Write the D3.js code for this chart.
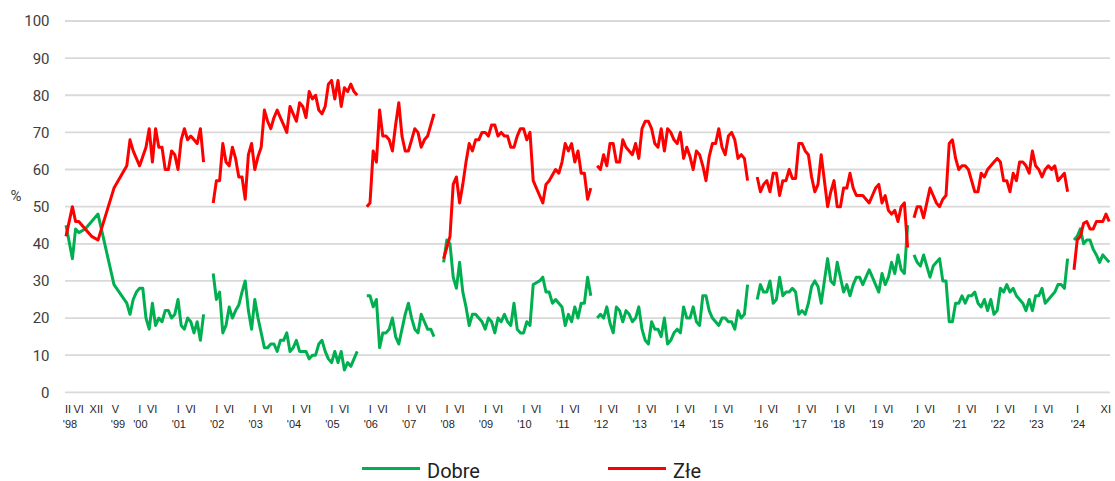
<!DOCTYPE html>
<html>
<head>
<meta charset="utf-8">
<script src="https://cdn.jsdelivr.net/npm/d3@7"></script>
<style>
  body { margin: 0; background: #fff; }
  svg text { font-family: Roboto, "Liberation Sans", sans-serif; }
  .ylab { font-size: 15px; fill: #404040; }
  .xlab { font-family: "Liberation Sans Narrow", "Liberation Sans", Arial, sans-serif !important; font-size: 11px; fill: #262626; }
  .leg { font-size: 20px; fill: #222; }
</style>
</head>
<body>
<svg id="chart" width="1115" height="481"></svg>
<script>
// one slot = one survey position on the category axis
// each term of government is drawn as its own line, so gaps appear between them

var segStart = [0, 46, 94, 118, 166, 216, 265, 315];

// Dobre (green)
var dobre = [
  [45,null,36,44,43,null,44,null,46,null,48,null,null,null,null,29,null,null,null,24,
   21,25,27,28,28,20,17,24,18,20,19,22,22,20,21,25,18,17,20,19,16,19,14,21],
  [32,25,27,16,18,23,20,22,23.5,27,30,22,17,25,20,16,12,12,13,13,11,14,14,16,11,12,14,11,11,11,
   9,10,10,13,14,11,9,8,11,8,11,6,8,7,9,11],
  [26,26,23,25,12,16,16,17,20,15,13,17,21,24,20,17,16,21,19,17,17,15],
  [35,41,40,31,28,35,27,23,18,21,21,20,19,17,20,19,16,20,19,21,19,18,24,17,16,16,19,18,29,29.5,
   30,31,27,27,24,25,24,23,18,21,19,23,20,24,24,31,26],
  [20,21,20,23,18.6,16,23,22,19,22,21,19,20,23,17,14,13,19,17,17,15,20,13,14,16,17,16,23,20,20,
   23,19,18,26,26,22,20,19,18,20,20,19,19,17,22,20,21,29],
  [25,29,27,27,30,24,25,31,26,27,27,28,27,21,22,21,24,28.5,30,28.5,24,30,36,30,29,35,31,27,29,26,
   29,31,31,29,31,33,31,29,27,32,29,31,35,32,37,33,32,45],
  [37,35,34,37,34,31,34,35,36,30,30,19,19,24,24,26,24,26,26,27,24,23,25,22,25,21,22,28,27,29,
   27,28,26,25,24,22,25,22,26,26,28,24,25,26,27,29,29,28,36],
  [41,42,44,40,41,41,38.5,37,35,37,36,35]
];

// Złe (red)
var zle = [
  [42,null,50,46,46,null,44,null,42,null,41,null,null,null,null,55,null,null,null,61,
   68,65,63,61,63.5,66,71,62,71,66,66,60,60,65,64,60,68,71,68,69,68,67,71,62],
  [51,57,57,67,62,61,66,63,58,58,52,64,67,60,63.5,66,76,73,71,74,76,74,72,70,77,75,73,78,77,74,
   81,79,80,76,75,77,83,84,79,84,77,82,81,83,81,80],
  [50,51,65,62,76,69,69,68,65,72,78,69,65,65,68,71,70,66,68,69,72,75],
  [36,39,42,56,58,51,56,62,67,65,68,68,70,70,69,72,72,69,70,69,69,66,66,69,71,71,68,70,57,55,
   53,51,56,57,58.5,60,59,62,67,65,67,62,65,59,59,52,55],
  [61,60,64,61,67,67,62,62,68,66,65,64,67,63,71,73,73,71,67,66,71,65,71,70,68,67,70,63,66,63.5,
   60,65,64,61,57,63.5,67,67,71,66,64,69,70,68,63,64,63,57],
  [58,54,56,57,54,59,59,53,57,57,60,57.6,57.6,67,67,65,64,58,54,56,64,57,50,54,57,50,50,55,55,59,
   55,53,53,53,52,51,53,55,56,51,53,49,48,49,46,50,51,39],
  [47,50,50,47,51,55,53,51,50,52,53,67,68,63,60,61,61,60,57,54,54,59,58,60,61,62,63,62,57,57,
   54,59,57,62,62,61,59,65,61,60,58,60,61,60,61,57,58,59,54],
  [33,41,42,45.5,46,44,44,46,46,46,48,46]
];

// axis labels: [slot, text]
var monthTicks = [
  [0,"II"],[4,"VI"],[10,"XII"],[15,"V"],
  [22,"I"],[27,"VI"],[34,"I"],[39,"VI"],[46,"I"],[51,"VI"],[58,"I"],[63,"VI"],
  [70,"I"],[75,"VI"],[82,"I"],[87,"VI"],[94,"I"],[99,"VI"],[106,"I"],[111,"VI"],
  [118,"I"],[123,"VI"],[130,"I"],[135,"VI"],[142,"I"],[147,"VI"],[154,"I"],[159,"VI"],
  [166,"I"],[171,"VI"],[178,"I"],[183,"VI"],[190,"I"],[195,"VI"],[202,"I"],[207,"VI"],
  [216,"I"],[221,"VI"],[228,"I"],[233,"VI"],[240,"I"],[245,"VI"],[252,"I"],[257,"VI"],
  [265,"I"],[270,"VI"],[278,"I"],[283,"VI"],[290,"I"],[295,"VI"],[302,"I"],[307,"VI"],
  [315,"I"],[325,"XI"]
];
var yearTicks = [
  [0,"'98"],[15,"'99"],[22,"'00"],[34,"'01"],[46,"'02"],[58,"'03"],[70,"'04"],[82,"'05"],
  [94,"'06"],[106,"'07"],[118,"'08"],[130,"'09"],[142,"'10"],[154,"'11"],[166,"'12"],
  [178,"'13"],[190,"'14"],[202,"'15"],[216,"'16"],[228,"'17"],[240,"'18"],[252,"'19"],
  [265,"'20"],[278,"'21"],[290,"'22"],[302,"'23"],[315,"'24"]
];

var colDobre = "#00b050";
var colZle = "#ff0000";

var svg = d3.select("#chart");

var x = d3.scaleLinear().domain([0, 326]).range([66, 1109.2]);
var y = d3.scaleLinear().domain([0, 100]).range([392.3, 21]);

// grid + y labels

svg.append("g").selectAll("line")
  .data(y.ticks(10))
  .enter().append("line")
  .attr("x1", 65).attr("x2", 1110)
  .attr("y1", function(d) { return y(d); })
  .attr("y2", function(d) { return y(d); })
  .attr("stroke", "#d9d9d9")
  .attr("stroke-width", 1.8);

svg.append("g").selectAll("text")
  .data(y.ticks(10))
  .enter().append("text")
  .attr("class", "ylab")
  .attr("x", 49.5)
  .attr("y", function(d) { return y(d); })
  .attr("dy", "0.36em")
  .attr("text-anchor", "end")
  .text(function(d) { return d; });

svg.append("text")
  .attr("class", "ylab")
  .attr("x", 16).attr("y", 196)
  .attr("dy", "0.36em")
  .attr("text-anchor", "middle")
  .text("%");

// x labels

svg.append("g").selectAll("text")
  .data(monthTicks)
  .enter().append("text")
  .attr("class", "xlab")
  .attr("x", function(d) { return x(d[0]) + 5; })
  .attr("y", 413)
  .attr("text-anchor", "end")
  .text(function(d) { return d[1]; });

svg.append("g").selectAll("text")
  .data(yearTicks)
  .enter().append("text")
  .attr("class", "xlab")
  .attr("x", function(d) { return x(d[0]) + 4; })
  .attr("y", 428)
  .attr("text-anchor", "middle")
  .text(function(d) { return d[1]; });

// lines, one path per term

var line = d3.line()
  .x(function(d) { return x(d.s); })
  .y(function(d) { return y(d.v); });

function drawSeries(data, color)
{
  data.forEach(function(seg, k) {
    var pts = seg.map(function(v, i) { return { s: segStart[k] + i, v: v }; })
      .filter(function(d) { return d.v != null; });   // sparse early surveys are joined
    svg.append("path")
      .datum(pts)
      .attr("d", line)
      .attr("fill", "none")
      .attr("stroke", color)
      .attr("stroke-width", 3)
      .attr("stroke-linejoin", "round");
  });
}

drawSeries(dobre, colDobre);
drawSeries(zle, colZle);

// legend

var legend = [["Dobre", colDobre, 362], ["Złe", colZle, 608]];

var lg = svg.append("g").selectAll("g")
  .data(legend)
  .enter().append("g")
  .attr("transform", function(d) { return "translate(" + d[2] + ",468.5)"; });

lg.append("line")
  .attr("x1", 0).attr("x2", 58)
  .attr("stroke", function(d) { return d[1]; })
  .attr("stroke-width", 3);

lg.append("text")
  .attr("class", "leg")
  .attr("x", 65).attr("y", 9)
  .text(function(d) { return d[0]; });
</script>
</body>
</html>
